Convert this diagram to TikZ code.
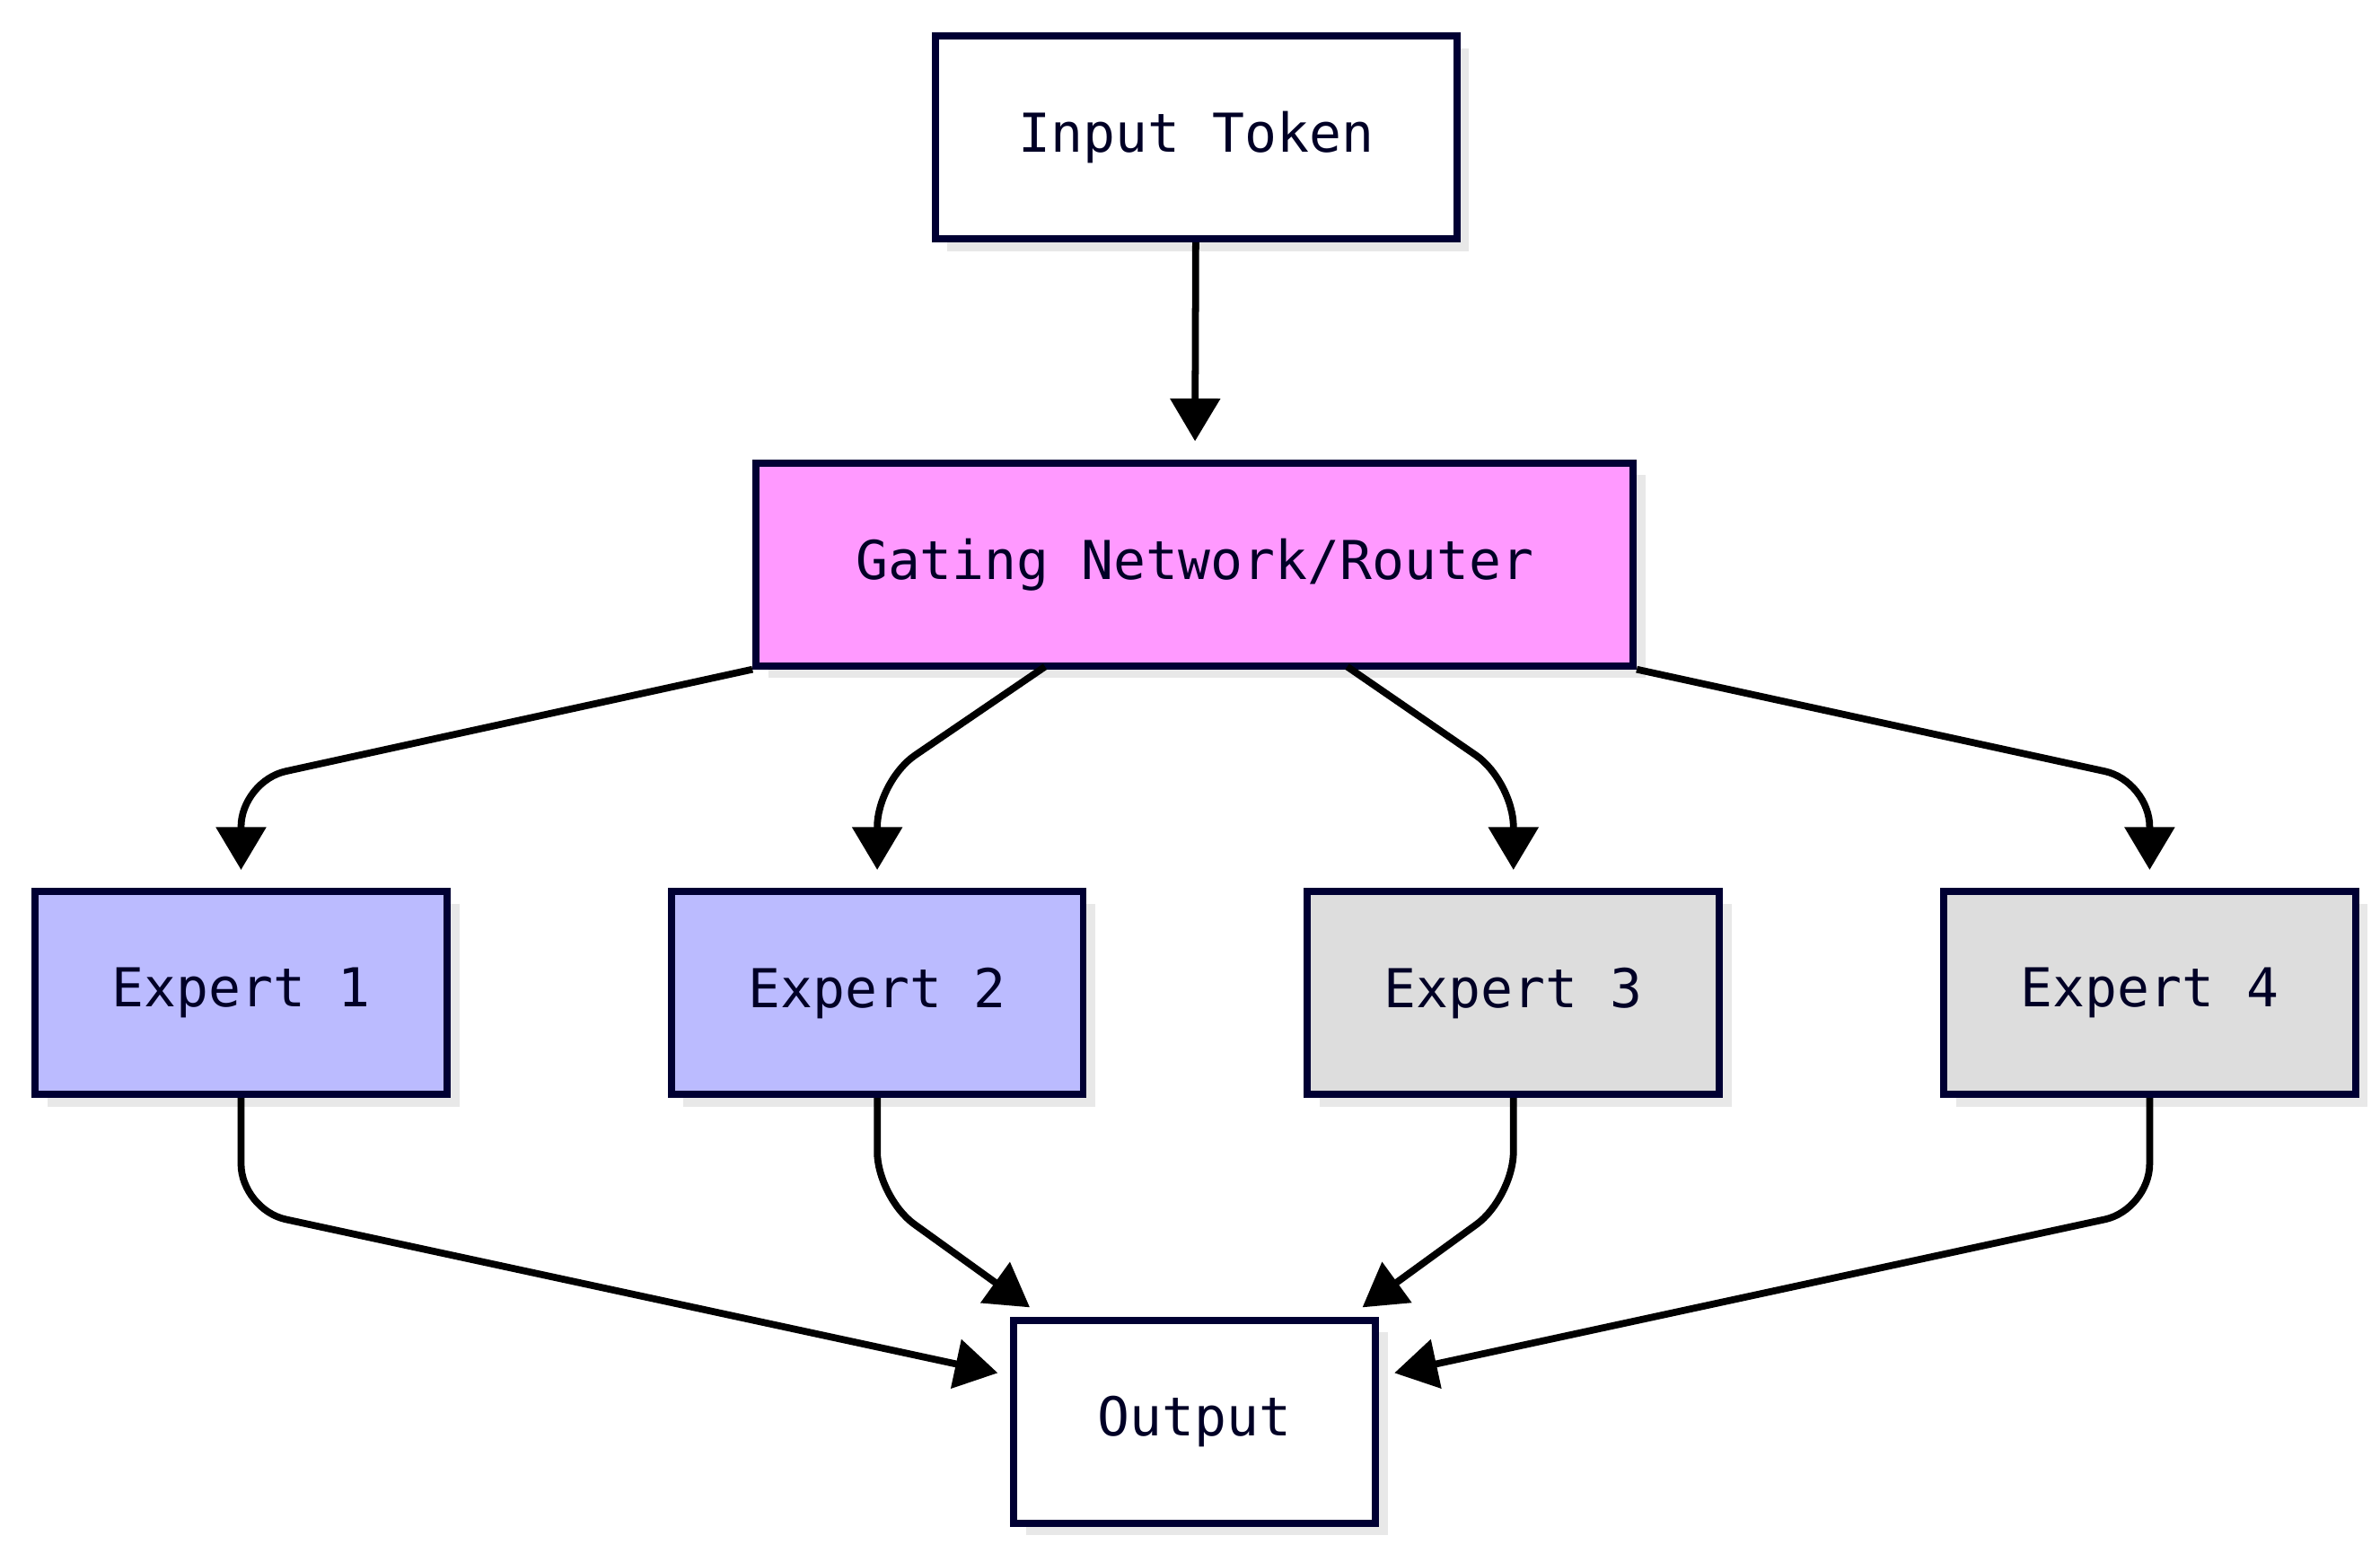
\documentclass[tikz,border=0pt]{standalone}
\usepackage{fontspec}
\setmonofont{DejaVu Sans Mono}
\usetikzlibrary{arrows.meta, shadows}

\tikzset{
  box/.style={draw=black!80!blue, line width=1.3pt, fill=white,
    minimum height=1.33cm, font=\ttfamily\fontsize{10}{12}\selectfont,
    text=black!85!blue, drop shadow={opacity=0.18, shadow xshift=0.08cm, shadow yshift=-0.08cm}},
  expert/.style={box, minimum width=2.7cm},
  edge/.style={line width=1.3pt, rounded corners=0.3cm,
    -{Triangle[width=3.2mm,length=2.8mm]}}
}

\begin{document}
\begin{tikzpicture}[x=0.1mm, y=-0.1mm]
\useasboundingbox (0,0) rectangle (1560,1018);

\node (input) [box, minimum width=3.42cm] at (784,90) {Input Token};
\node (gate) [box, minimum width=5.75cm, fill={rgb,255:red,255;green,153;blue,255}] at (783,370) {Gating Network/Router};

\node (e1) [expert, fill={rgb,255:red,187;green,187;blue,255}] at (158,651) {Expert 1};
\node (e2) [expert, fill={rgb,255:red,187;green,187;blue,255}] at (575,651) {Expert 2};
\node (e3) [expert, fill={rgb,255:red,221;green,221;blue,221}] at (992,651) {Expert 3};
\node (e4) [expert, fill={rgb,255:red,221;green,221;blue,221}] at (1409,651) {Expert 4};

\node (out) [box, minimum width=2.37cm] at (783,932) {Output};

% input to router
\draw[edge, shorten >=1.2mm] (input) -- (gate);

% router to experts
\draw[edge, shorten >=1.2mm] (gate.south west) -- (158,512) -- (e1.north);
\draw[edge, shorten >=1.2mm] (685,437) -- (575,512) -- (e2.north);
\draw[edge, shorten >=1.2mm] (883,437) -- (992,512) -- (e3.north);
\draw[edge, shorten >=1.2mm] (gate.south east) -- (1409,512) -- (e4.north);

% experts to output
\draw[edge] (e1.south) -- (158,793) -- (654,900);
\draw[edge] (e2.south) -- (575,785) -- (675,857);
\draw[edge] (e3.south) -- (992,785) -- (893,857);
\draw[edge] (e4.south) -- (1409,793) -- (914,900);

\end{tikzpicture}
\end{document}
